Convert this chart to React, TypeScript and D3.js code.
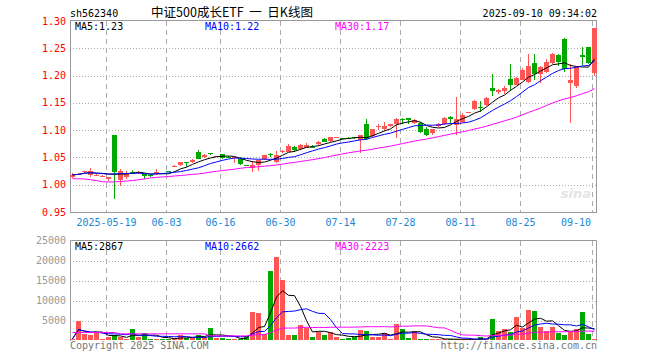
import React from "react";
import * as d3 from "d3";

const dates = [
  "2025-05-09","2025-05-12","2025-05-13","2025-05-14","2025-05-15","2025-05-16","2025-05-19","2025-05-20","2025-05-21","2025-05-22","2025-05-23","2025-05-26","2025-05-27","2025-05-28","2025-05-29","2025-05-30",
  "2025-06-03","2025-06-04","2025-06-05","2025-06-06","2025-06-09","2025-06-10","2025-06-11","2025-06-12","2025-06-13","2025-06-16","2025-06-17","2025-06-18","2025-06-19","2025-06-20","2025-06-23","2025-06-24","2025-06-25","2025-06-26","2025-06-27","2025-06-30",
  "2025-07-01","2025-07-02","2025-07-03","2025-07-04","2025-07-07","2025-07-08","2025-07-09","2025-07-10","2025-07-11","2025-07-14","2025-07-15","2025-07-16","2025-07-17","2025-07-18","2025-07-21","2025-07-22","2025-07-23","2025-07-24","2025-07-25","2025-07-28","2025-07-29","2025-07-30","2025-07-31",
  "2025-08-01","2025-08-04","2025-08-05","2025-08-06","2025-08-07","2025-08-08","2025-08-11","2025-08-12","2025-08-13","2025-08-14","2025-08-15","2025-08-18","2025-08-19","2025-08-20","2025-08-21","2025-08-22","2025-08-25","2025-08-26","2025-08-27","2025-08-28","2025-08-29",
  "2025-09-01","2025-09-02","2025-09-03","2025-09-04","2025-09-05","2025-09-08","2025-09-09","2025-09-10",
];

const opens = [
  1.014,1.0195,1.024,1.017,1.0175,1.0155,1.0099,1.0913,1.0093,1.0136,1.0241,1.021,1.019,1.0185,1.0225,1.0215,
  1.0255,1.033,1.036,1.041,1.041,1.06,1.0506,1.0575,1.0515,1.056,1.0515,1.049,1.048,1.036,1.0315,1.036,1.047,1.0556,1.042,1.061,
  1.0605,1.069,1.065,1.068,1.0698,1.074,1.0845,1.08,1.086,1.086,1.086,1.087,1.0815,1.111,1.089,1.106,1.103,1.1075,1.111,1.121,1.1215,1.1125,1.1137,
  1.103,1.094,1.107,1.112,1.1235,1.109,1.1155,1.132,1.138,1.143,1.146,1.178,1.169,1.171,1.1945,1.183,1.1926,1.1877,1.223,1.202,1.2074,
  1.2235,1.237,1.2667,1.1865,1.18,1.2376,1.253,1.205,
];
const highs = [
  1.022,1.021,1.026,1.03,1.019,1.017,1.0136,1.0913,1.0284,1.0247,1.0266,1.025,1.02,1.02,1.0285,1.022,
  1.026,1.036,1.042,1.041,1.047,1.0635,1.057,1.0575,1.053,1.056,1.052,1.051,1.0506,1.036,1.043,1.0445,1.054,1.0586,1.0617,1.0636,
  1.0747,1.071,1.075,1.0765,1.0728,1.08,1.0858,1.0876,1.088,1.0865,1.087,1.088,1.092,1.121,1.103,1.1105,1.115,1.112,1.123,1.123,1.123,1.121,1.1155,
  1.106,1.103,1.113,1.125,1.1265,1.161,1.131,1.134,1.1555,1.1525,1.1605,1.202,1.175,1.18,1.2204,1.1975,1.213,1.239,1.239,1.217,1.2296,
  1.241,1.239,1.2685,1.222,1.217,1.253,1.253,1.288,
];
const lows = [
  1.012,1.019,1.022,1.015,1.017,1.015,1.0062,0.9735,0.998,1.011,1.02,1.02,1.011,1.015,1.017,1.02,
  1.0245,1.032,1.035,1.033,1.039,1.0465,1.0494,1.054,1.051,1.047,1.05,1.039,1.036,1.035,1.0235,1.0253,1.046,1.051,1.04,1.059,
  1.0593,1.0605,1.0636,1.067,1.067,1.073,1.078,1.079,1.085,1.084,1.085,1.084,1.058,1.0815,1.087,1.101,1.098,1.106,1.086,1.112,1.111,1.111,1.094,
  1.089,1.092,1.105,1.11,1.114,1.091,1.114,1.131,1.137,1.134,1.1445,1.162,1.167,1.1665,1.172,1.182,1.191,1.1865,1.1914,1.1865,1.205,
  1.222,1.217,1.206,1.1124,1.177,1.2185,1.2204,1.2,
];
const closes = [
  1.018,1.02,1.025,1.025,1.018,1.016,1.0136,1.0235,1.026,1.0198,1.0216,1.024,1.016,1.0155,1.0235,1.021,
  1.025,1.034,1.041,1.04,1.046,1.048,1.0543,1.0565,1.052,1.0494,1.0505,1.051,1.038,1.035,1.036,1.0445,1.054,1.055,1.0543,1.062,
  1.071,1.0636,1.0728,1.073,1.0692,1.079,1.079,1.0876,1.087,1.085,1.0855,1.085,1.092,1.0834,1.103,1.107,1.1075,1.1105,1.121,1.1185,1.1185,1.1185,1.0964,
  1.091,1.102,1.112,1.123,1.121,1.121,1.128,1.133,1.1525,1.141,1.1587,1.171,1.173,1.178,1.1835,1.1963,1.21,1.217,1.202,1.216,1.2247,
  1.239,1.2253,1.212,1.1914,1.2155,1.2346,1.2235,1.288,
];
const volumes = [
  417,5000,1667,1250,2250,417,833,1417,833,417,3000,833,2000,417,417,333,
  417,667,1250,667,833,1250,1000,3250,667,667,333,333,417,1167,7250,7000,1667,17500,20833,15250,
  1250,1250,4000,3167,1000,2083,1250,2250,750,400,583,833,2750,2500,750,1000,2000,500,4250,3000,667,2500,500,
  500,333,333,250,333,333,300,250,300,750,333,5500,2333,3000,2250,6000,3083,7750,7500,3500,2333,
  3500,1833,1500,2250,3000,7250,1600,500,
];
const priceMa30Lead = [
  1.0111,1.0108,1.0105,1.0093,1.0075,1.0055,1.005,1.0052,1.0058,1.0068,1.0078,1.009,1.0105,1.0125,1.0135,1.0142,
  1.015,1.016,1.0168,1.0178,1.019,1.0198,1.0212,1.0232,1.0245,1.026,1.0272,1.0285,1.03,
];
const volMa30Lead = [
  2000,2000,2000,2000,2000,2000,2000,2000,1667,1667,1667,1667,1667,1667,1667,1667,
  1667,1667,1667,1667,1667,1667,1667,1150,1150,1150,1150,1150,1150,
];

const tickDates = ["2025-05-19","2025-06-03","2025-06-16","2025-06-30","2025-07-14","2025-07-28","2025-08-11","2025-08-25","2025-09-10"];
const tickLabels = ["2025-05-19","06-03","06-16","06-30","07-14","07-28","08-11","08-25","09-10"];
const priceTicks = [1.30,1.25,1.20,1.15,1.10,1.05,1.00,0.95];
const volTicks = [25000,20000,15000,10000,5000];

const code = "sh562340";
const title = "中证500成长ETF\u00a0\u00a0一\u00a0\u00a0日K线图";
const stamp = "2025-09-10 09:34:02";
const priceLegend = ["MA5:1.23","MA10:1.22","MA30:1.17"];
const volLegend = ["MA5:2867","MA10:2662","MA30:2223"];

const RED = "#ff5555";
const GREEN = "#00a800";
const MA_COLORS = ["#000000","#0000ff","#ff00ff"];
const MONO = "'DejaVu Sans Mono', 'Liberation Mono', monospace";

function movingAvg(values: number[], n: number, lead?: number[]) {
  return values.map((_, i) => {
    if (lead && i < lead.length) return lead[i];
    return d3.mean(values.slice(Math.max(0, i - n + 1), i + 1)) as number;
  });
}

export default function App() {
  const L = 70, R = 597;
  const x = d3.scaleBand<string>().domain(dates).range([69, 597]);
  const cx = (d: string) => Math.round((x(d) as number) + x.bandwidth() / 2);
  const py = d3.scaleLinear().domain([0.95, 1.3]).range([212, 21]);
  const vy = d3.scaleLinear().domain([0, 25000]).range([340.5, 240.5]);

  const pMAs = [movingAvg(closes, 5), movingAvg(closes, 10), movingAvg(closes, 30, priceMa30Lead)];
  const vMAs = [movingAvg(volumes, 5), movingAvg(volumes, 10), movingAvg(volumes, 30, volMa30Lead)];

  const pLine = (arr: number[]) =>
    d3.line<number>().x((_, i) => cx(dates[i]) + 0.5).y((v) => py(v))(arr) as string;
  const vLine = (arr: number[]) =>
    d3.line<number>().x((_, i) => cx(dates[i]) + 0.5).y((v) => vy(v))(arr) as string;

  const gridCol = "#aaaaaa";
  const frameCol = "#999999";

  return (
    <svg width={660} height={360} style={{ position: "absolute", left: 0, top: 0, background: "#fff" }}>
      {/* header */}
      <text x={70} y={16.5} fontFamily={MONO} fontSize={10} fill="#000">{code}</text>
      <text x={232} y={17} fontFamily="'Noto Sans CJK SC', sans-serif" fontSize={12.5} textAnchor="middle" fill="#000">{title}</text>
      <text x={597} y={16.5} fontFamily={MONO} fontSize={10} textAnchor="end" fill="#000">{stamp}</text>

      {/* gridlines */}
      {priceTicks.slice(1, -1).map((t) => (
        <line key={"pg" + t} x1={L} x2={R} y1={Math.round(py(t)) + 0.5} y2={Math.round(py(t)) + 0.5} stroke={gridCol} strokeDasharray="1,2" />
      ))}
      {volTicks.slice(1).map((t) => (
        <line key={"vg" + t} x1={L} x2={R} y1={Math.round(vy(t)) + 0.5} y2={Math.round(vy(t)) + 0.5} stroke={gridCol} strokeDasharray="1,2" />
      ))}
      {tickDates.map((d) => (
        <g key={"vx" + d}>
          <line x1={cx(d) - 1.5} x2={cx(d) - 1.5} y1={21} y2={212} stroke={gridCol} strokeDasharray="5,4" />
          <line x1={cx(d) - 1.5} x2={cx(d) - 1.5} y1={241} y2={340} stroke={gridCol} strokeDasharray="5,4" />
        </g>
      ))}

      {/* frames */}
      <rect x={L + 0.5} y={20.5} width={R - L - 1} height={192} fill="none" stroke={frameCol} />
      <path d={`M${L + 0.5},341 V240.5 H${R - 0.5} V341`} fill="none" stroke={frameCol} />

      {/* watermark */}
      <text x={591} y={198} fontFamily="'DejaVu Sans', sans-serif" fontStyle="italic" fontWeight="bold" fontSize={13} textAnchor="end" fill="#e4e4e4">sina</text>

      {/* axis labels */}
      {priceTicks.map((t) => (
        <text key={"pl" + t} x={66} y={py(t)} dy="0.35em" fontFamily={MONO} fontSize={10} textAnchor="end" fill="#ff0000">{t.toFixed(2)}</text>
      ))}
      {volTicks.map((t) => (
        <text key={"vl" + t} x={66} y={vy(t)} dy="0.35em" fontFamily={MONO} fontSize={10} textAnchor="end" fill="#999999">{t}</text>
      ))}
      {tickDates.map((d, k) => {
        const last = k === tickDates.length - 1;
        return (
          <text key={"xl" + d} x={last ? R - 6 : cx(d) - 1.5} y={225.5} fontFamily={MONO} fontSize={10}
            textAnchor={last ? "end" : "middle"} fill="#1a88d4">{tickLabels[k]}</text>
        );
      })}

      {/* candles and volume bars */}
      <g shapeRendering="crispEdges">
        {dates.map((d, i) => {
          const o = opens[i], c = closes[i];
          const col = c >= o ? RED : GREEN;
          const top = Math.round(py(Math.max(o, c)));
          const bot = Math.round(py(Math.min(o, c)));
          const X = cx(d);
          return (
            <g key={"c" + d}>
              <line x1={X + 0.5} x2={X + 0.5} y1={py(highs[i])} y2={py(lows[i])} stroke={col} />
              <rect x={X - 2} y={top} width={5} height={Math.max(1, bot - top)} fill={col} />
            </g>
          );
        })}
        {dates.map((d, i) => {
          const top = Math.round(vy(volumes[i]));
          return <rect key={"v" + d} x={cx(d) - 2} y={top} width={5} height={Math.max(1, 340 - top)} fill={closes[i] >= opens[i] ? RED : GREEN} />;
        })}
      </g>

      {/* MA lines */}
      {pMAs.map((arr, k) => (
        <path key={"pm" + k} d={pLine(arr)} fill="none" stroke={MA_COLORS[k]} strokeWidth={1} />
      ))}
      {vMAs.map((arr, k) => (
        <path key={"vm" + k} d={vLine(arr)} fill="none" stroke={MA_COLORS[k]} strokeWidth={1} />
      ))}

      {/* legends */}
      {priceLegend.map((s, k) => (
        <text key={"plg" + k} x={75 + k * 130} y={29.5} fontFamily={MONO} fontSize={10} fill={MA_COLORS[k]}>{s}</text>
      ))}
      {volLegend.map((s, k) => (
        <text key={"vlg" + k} x={75 + k * 130} y={249.5} fontFamily={MONO} fontSize={10} fill={MA_COLORS[k]}>{s}</text>
      ))}

      {/* footer */}
      <text x={70} y={349} fontFamily={MONO} fontSize={10} fill="#777777">Copyright 2025 SINA.COM</text>
      <text x={597} y={349} fontFamily={MONO} fontSize={10} textAnchor="end" fill="#777777">http://finance.sina.com.cn</text>
    </svg>
  );
}
